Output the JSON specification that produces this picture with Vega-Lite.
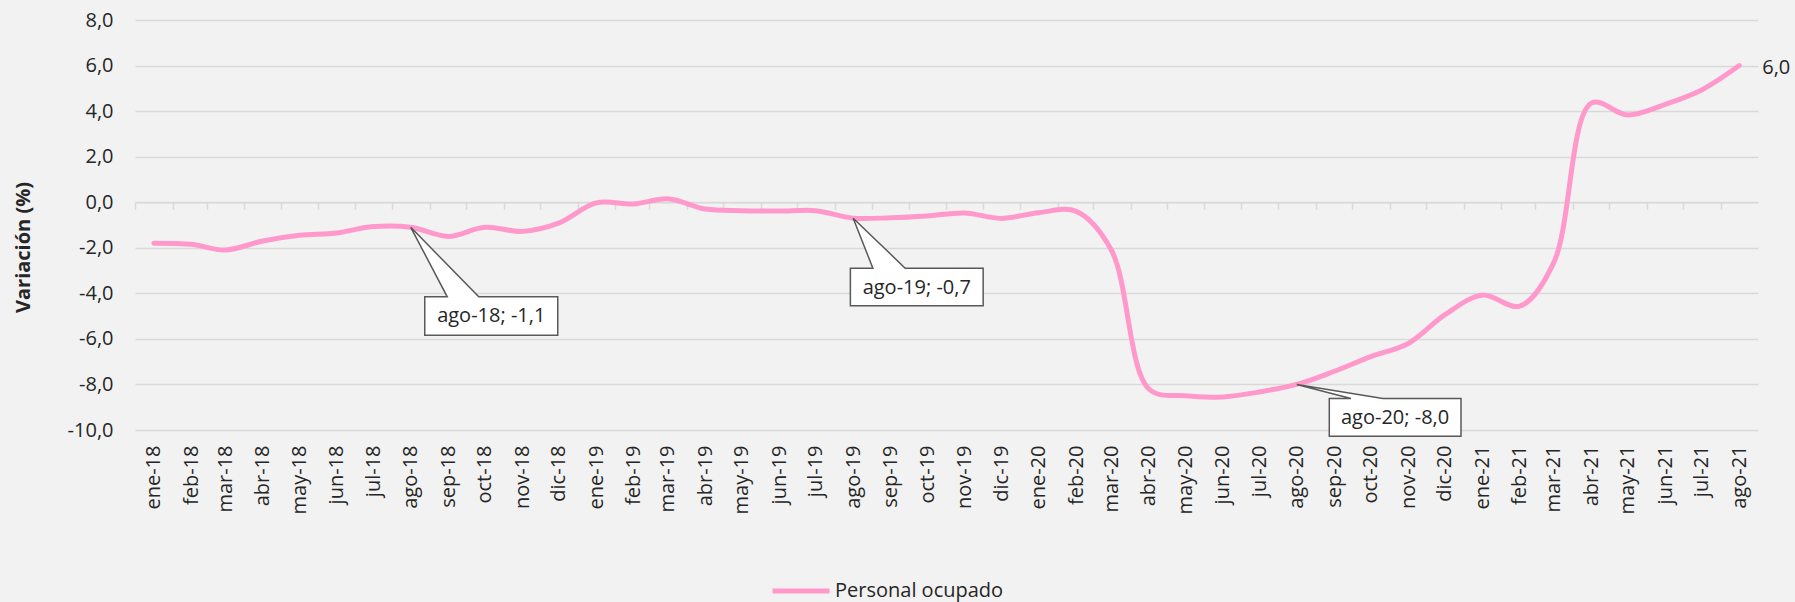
{
  "$schema": "https://vega.github.io/schema/vega-lite/v6.json",
  "width": 1623,
  "height": 410,
  "autosize": {"type": "none"},
  "padding": {"left": 135, "top": 20, "right": 37, "bottom": 172},
  "background": "#f2f2f2",
  "config": {"view": {"stroke": null}, "font": "Open Sans"},
  "datasets": {
    "serie": [
      {"fecha": "2018-01-01", "valor": -1.8},
      {"fecha": "2018-02-01", "valor": -1.85},
      {"fecha": "2018-03-01", "valor": -2.1},
      {"fecha": "2018-04-01", "valor": -1.7},
      {"fecha": "2018-05-01", "valor": -1.45},
      {"fecha": "2018-06-01", "valor": -1.35},
      {"fecha": "2018-07-01", "valor": -1.07},
      {"fecha": "2018-08-01", "valor": -1.1},
      {"fecha": "2018-09-01", "valor": -1.5},
      {"fecha": "2018-10-01", "valor": -1.1},
      {"fecha": "2018-11-01", "valor": -1.28},
      {"fecha": "2018-12-01", "valor": -0.92},
      {"fecha": "2019-01-01", "valor": -0.03},
      {"fecha": "2019-02-01", "valor": -0.08},
      {"fecha": "2019-03-01", "valor": 0.15},
      {"fecha": "2019-04-01", "valor": -0.3},
      {"fecha": "2019-05-01", "valor": -0.37},
      {"fecha": "2019-06-01", "valor": -0.39},
      {"fecha": "2019-07-01", "valor": -0.37},
      {"fecha": "2019-08-01", "valor": -0.7},
      {"fecha": "2019-09-01", "valor": -0.68},
      {"fecha": "2019-10-01", "valor": -0.6},
      {"fecha": "2019-11-01", "valor": -0.47},
      {"fecha": "2019-12-01", "valor": -0.71},
      {"fecha": "2020-01-01", "valor": -0.46},
      {"fecha": "2020-02-01", "valor": -0.4},
      {"fecha": "2020-03-01", "valor": -2.1},
      {"fecha": "2020-04-01", "valor": -8.2},
      {"fecha": "2020-05-01", "valor": -8.5},
      {"fecha": "2020-06-01", "valor": -8.55},
      {"fecha": "2020-07-01", "valor": -8.33},
      {"fecha": "2020-08-01", "valor": -8.0},
      {"fecha": "2020-09-01", "valor": -7.42},
      {"fecha": "2020-10-01", "valor": -6.78},
      {"fecha": "2020-11-01", "valor": -6.2},
      {"fecha": "2020-12-01", "valor": -4.95},
      {"fecha": "2021-01-01", "valor": -4.08},
      {"fecha": "2021-02-01", "valor": -4.56},
      {"fecha": "2021-03-01", "valor": -2.65},
      {"fecha": "2021-04-01", "valor": 4.35},
      {"fecha": "2021-05-01", "valor": 3.83},
      {"fecha": "2021-06-01", "valor": 4.3},
      {"fecha": "2021-07-01", "valor": 4.93},
      {"fecha": "2021-08-01", "valor": 6.0}
    ],
    "notas": [
      {"fecha": "2018-08-01", "valor": -1.1, "etiqueta": "ago-18; -1,1"},
      {"fecha": "2019-08-01", "valor": -0.7, "etiqueta": "ago-19; -0,7"},
      {"fecha": "2020-08-01", "valor": -8.0, "etiqueta": "ago-20; -8,0"},
      {"fecha": "2021-08-01", "valor": 6.0, "etiqueta": "6,0"}
    ]
  },
  "encoding": {
    "x": {
      "field": "fecha", "type": "temporal",
      "scale": {"type": "utc", "domain": [{"year": 2017, "month": 12, "date": 16, "hours": 12, "utc": true}, {"year": 2021, "month": 8, "date": 16, "hours": 12, "utc": true}]},
      "axis": null
    },
    "y": {
      "field": "valor", "type": "quantitative",
      "scale": {"domain": [-10, 8], "nice": false, "zero": false},
      "axis": {
        "title": "Variación (%)",
        "values": [-10, -8, -6, -4, -2, 0, 2, 4, 6, 8],
        "labelExpr": "replace(replace(format(datum.value, '.1f'), '.', ','), '\u2212', '-')",
        "domain": false, "ticks": false, "tickSize": 0,
        "grid": true, "gridColor": "#d9d9d9", "gridWidth": 1.5,
        "labelPadding": 22, "labelFontSize": 20, "labelColor": "#262626", "labelFont": "Open Sans",
        "titleFontSize": 20, "titleFontWeight": "bold", "titleColor": "#262626", "titleFont": "Open Sans",
        "titleX": -112, "titleY": 227, "titleAngle": 270, "titleAlign": "center", "titleBaseline": "middle"
      }
    }
  },
  "layer": [
    {
      "data": {"name": "serie"},
      "mark": {"type": "line", "interpolate": "catmull-rom", "strokeWidth": 5, "strokeCap": "round"},
      "encoding": {
        "x": {
          "field": "fecha", "type": "temporal",
          "scale": {"type": "utc", "domain": [{"year": 2017, "month": 12, "date": 16, "hours": 12, "utc": true}, {"year": 2021, "month": 8, "date": 16, "hours": 12, "utc": true}]},
          "axis": {
            "title": null, "domain": false, "ticks": false, "tickSize": 0, "grid": false,
            "labelAngle": 270, "labelPadding": 15, "labelFontSize": 20, "labelColor": "#262626", "labelFont": "Open Sans",
            "labelOverlap": false, "labelBound": false, "labelFlush": false,
            "tickCount": {"interval": "month", "step": 1},
            "labelExpr": "['ene','feb','mar','abr','may','jun','jul','ago','sep','oct','nov','dic'][utcmonth(datum.value)] + '-' + utcFormat(datum.value, '%y')"
          }
        },
        "color": {
          "datum": "Personal ocupado", "type": "nominal",
          "scale": {"range": ["#ff99cc"]},
          "legend": {
            "title": null, "orient": "none", "legendX": 635, "legendY": 540,
            "symbolType": "stroke", "symbolSize": 3249, "symbolStrokeWidth": 5,
            "labelFontSize": 20, "labelFont": "Open Sans", "labelColor": "#262626",
            "labelOffset": 3, "labelLimit": 400, "padding": 0
          }
        }
      }
    },
    {
      "data": {"name": "notas"},
      "transform": [{"filter": {"field": "etiqueta", "equal": "ago-18; -1,1"}}],
      "mark": {"type": "point", "shape": "M0,0L68,69.5L147,69.5L147,108L14,108L14,69.5L36.5,69.5Z", "size": 4, "filled": true, "fill": "#ffffff", "stroke": "#595959", "strokeWidth": 1.5, "opacity": 1}
    },
    {
      "data": {"name": "notas"},
      "transform": [{"filter": {"field": "etiqueta", "equal": "ago-18; -1,1"}}],
      "mark": {"type": "text", "dx": 80.5, "dy": 89, "align": "center", "baseline": "middle", "fontSize": 20, "font": "Open Sans", "fill": "#262626"},
      "encoding": {"text": {"field": "etiqueta"}}
    },
    {
      "data": {"name": "notas"},
      "transform": [{"filter": {"field": "etiqueta", "equal": "ago-19; -0,7"}}],
      "mark": {"type": "point", "shape": "M0,0L52,50L130,50L130,87.7L-2.8,87.7L-2.8,50L19.7,50Z", "size": 4, "filled": true, "fill": "#ffffff", "stroke": "#595959", "strokeWidth": 1.5, "opacity": 1}
    },
    {
      "data": {"name": "notas"},
      "transform": [{"filter": {"field": "etiqueta", "equal": "ago-19; -0,7"}}],
      "mark": {"type": "text", "dx": 63.6, "dy": 69.5, "align": "center", "baseline": "middle", "fontSize": 20, "font": "Open Sans", "fill": "#262626"},
      "encoding": {"text": {"field": "etiqueta"}}
    },
    {
      "data": {"name": "notas"},
      "transform": [{"filter": {"field": "etiqueta", "equal": "ago-20; -8,0"}}],
      "mark": {"type": "point", "shape": "M0,0L86,14L164.2,14L164.2,51.7L32.5,51.7L32.5,14L54.2,14Z", "size": 4, "filled": true, "fill": "#ffffff", "stroke": "#595959", "strokeWidth": 1.5, "opacity": 1}
    },
    {
      "data": {"name": "notas"},
      "transform": [{"filter": {"field": "etiqueta", "equal": "ago-20; -8,0"}}],
      "mark": {"type": "text", "dx": 98.3, "dy": 33.3, "align": "center", "baseline": "middle", "fontSize": 20, "font": "Open Sans", "fill": "#262626"},
      "encoding": {"text": {"field": "etiqueta"}}
    },
    {
      "data": {"name": "notas"},
      "transform": [{"filter": {"field": "etiqueta", "equal": "6,0"}}],
      "mark": {"type": "text", "dx": 23, "dy": 2, "align": "left", "baseline": "middle", "fontSize": 20, "font": "Open Sans", "fill": "#262626"},
      "encoding": {
        "x": {
          "field": "fecha", "type": "temporal",
          "scale": {"type": "utc", "domain": [{"year": 2017, "month": 12, "date": 16, "hours": 12, "utc": true}, {"year": 2021, "month": 8, "date": 16, "hours": 12, "utc": true}]},
          "axis": {
            "orient": "bottom", "offset": -227.8, "title": null, "labels": false, "grid": false,
            "domain": true, "domainColor": "#d9d9d9", "domainWidth": 1.5,
            "ticks": true, "tickColor": "#d9d9d9", "tickWidth": 1.5, "tickSize": 7, "tickOffset": -18.4,
            "tickCount": {"interval": "month", "step": 1}
          }
        },
        "text": {"field": "etiqueta"}
      }
    }
  ],
  "resolve": {"axis": {"x": "independent"}}
}
